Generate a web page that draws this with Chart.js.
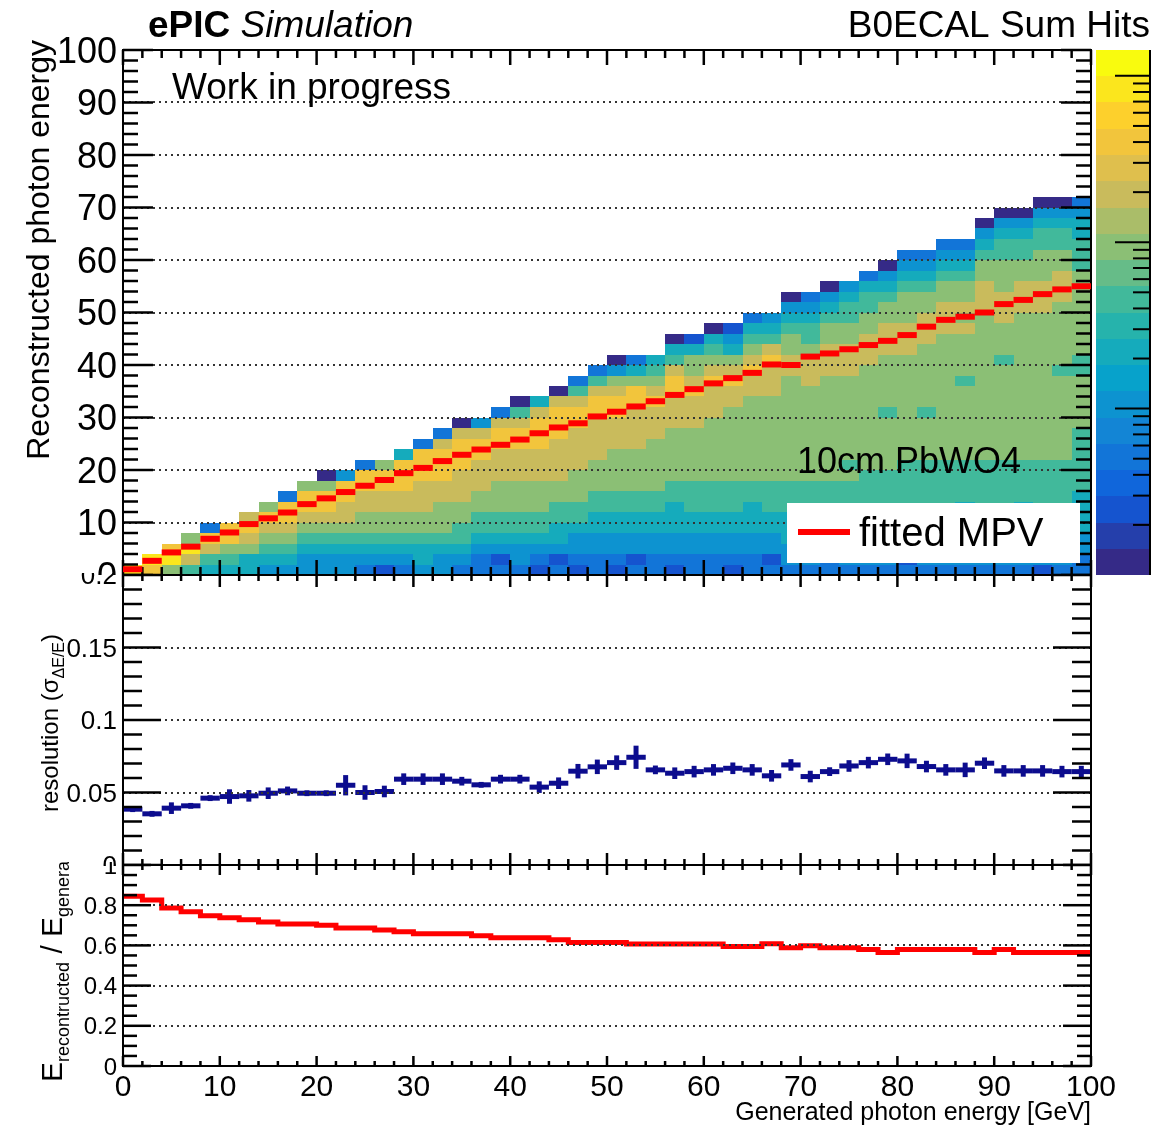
<!DOCTYPE html>
<html>
<head>
<meta charset="utf-8">
<title>B0ECAL Sum Hits</title>
<script src="https://cdn.jsdelivr.net/npm/chart.js@4/dist/chart.umd.min.js"></script>
<style>
  html, body { margin: 0; background: #fff; }
  #page { position: relative; width: 1168px; height: 1127px; overflow: hidden; }
  #page canvas { position: absolute; left: 0; }
</style>
</head>
<body>
<div id="page">
  <canvas id="hitsPad" width="1168" height="575" style="top:0px"></canvas>
  <canvas id="resPad" width="1168" height="293" style="top:573px"></canvas>
  <canvas id="ratioPad" width="1168" height="265" style="top:862px"></canvas>
</div>
<script>
// generated photon energy, bin centres (2 GeV bins)
const genEnergy = [1, 3, 5, 7, 9, 11, 13, 15, 17, 19, 21, 23, 25, 27, 29, 31, 33, 35, 37, 39,
  41, 43, 45, 47, 49, 51, 53, 55, 57, 59, 61, 63, 65, 67, 69, 71, 73, 75, 77, 79,
  81, 83, 85, 87, 89, 91, 93, 95, 97, 99];

// fitted most probable value of the reconstructed energy per bin
const mpvReco = [1.1, 2.7, 4.3, 5.4, 6.9, 8.1, 9.7, 10.8, 11.9, 13.5, 14.6, 15.8, 17.0, 18.1, 19.4, 20.4,
  21.7, 22.9, 23.9, 24.8, 25.8, 27.0, 28.1, 28.9, 30.2, 31.1, 32.1, 33.1, 34.3, 35.4, 36.5, 37.5,
  38.5, 40.1, 40.0, 41.6, 42.2, 43.0, 43.8, 44.6, 45.7, 47.3, 48.6, 49.2, 50.0, 51.6, 52.4, 53.5,
  54.4, 55.0];

// sigma(dE/E) and its error
const resolution = [0.0385, 0.0353, 0.0392, 0.0408, 0.0461, 0.0472, 0.0477, 0.0495, 0.0511, 0.0495,
  0.0495, 0.0550, 0.0500, 0.0507, 0.0592, 0.0592, 0.0592, 0.0578, 0.0553, 0.0592,
  0.0592, 0.0537, 0.0564, 0.0647, 0.0677, 0.0706, 0.0743, 0.0656, 0.0633, 0.0644,
  0.0656, 0.0667, 0.0656, 0.0615, 0.0690, 0.0610, 0.0644, 0.0683, 0.0706, 0.0729,
  0.0718, 0.0679, 0.0656, 0.0656, 0.0702, 0.0649, 0.0649, 0.0649, 0.0644, 0.0644];
const resolutionErr = [0.002, 0.002, 0.004, 0.002, 0.002, 0.005, 0.004, 0.004, 0.003, 0.002,
  0.002, 0.007, 0.005, 0.004, 0.004, 0.004, 0.004, 0.003, 0.002, 0.003,
  0.003, 0.004, 0.004, 0.005, 0.005, 0.005, 0.008, 0.003, 0.004, 0.004,
  0.004, 0.004, 0.004, 0.004, 0.004, 0.004, 0.003, 0.004, 0.004, 0.004,
  0.005, 0.004, 0.004, 0.005, 0.004, 0.004, 0.004, 0.004, 0.004, 0.004];

// E_reco / E_gen
const recoRatio = [0.845, 0.826, 0.786, 0.767, 0.747, 0.737, 0.727, 0.717, 0.707, 0.707,
  0.700, 0.687, 0.687, 0.677, 0.668, 0.658, 0.658, 0.658, 0.648, 0.638,
  0.638, 0.638, 0.628, 0.615, 0.615, 0.615, 0.607, 0.607, 0.607, 0.607,
  0.607, 0.595, 0.595, 0.608, 0.588, 0.598, 0.588, 0.588, 0.579, 0.565,
  0.579, 0.579, 0.579, 0.579, 0.565, 0.579, 0.565, 0.565, 0.565, 0.565];

// sum-hits map: one string per generated-energy bin, one char per 2 GeV
// reconstructed-energy bin starting at 0; char = log-count level 0..9
const recoBinWidth = 2;
const sumHitsLevels = [
  "9",
  "89",
  "698",
  "5796",
  "45782",
  "45688",
  "44678 7",
  "34567 86",
  "34567 882",
  "33456 7886",
  "33456 78860",
  "33456 77883",
  "23456 67788 2",
  "13456 67788 6",
  "23456 67788 84",
  "34456 67778 882",
  "33456 66778 8872",
  "23455 66777 88870",
  "22345 56677 78873",
  "21345 56667 77887 2",
  "23345 56667 77887 50",
  "12345 56667 77888 74",
  "21344 55667 77788 870",
  "12334 55666 77778 8752",
  "22334 45566 67777 88752",
  "12334 45566 66777 88763 0",
  "21334 45566 66777 78864 2",
  "22334 45566 66677 78765 4",
  "12334 44556 66667 77887 540",
  "22334 45556 66667 77876 641",
  "22334 45556 66666 77787 6540",
  "12334 45556 66666 67787 6431",
  "22334 44556 66666 66778 76542",
  "21334 45556 66666 66777 87543",
  "23344 45556 66666 66667 76654 30",
  "23344 45556 66666 66677 76554 32",
  "22344 45556 66666 66667 77665 430",
  "23344 45556 56666 66667 77665 543",
  "23344 45555 66666 66666 77766 5542",
  "23344 45555 66666 56666 67776 65430",
  "21344 45555 56666 66666 67776 66543 2",
  "23344 45555 56666 56666 66777 66543 2",
  "23344 45555 56666 66666 66677 76654 32",
  "23344 44555 56666 66656 66676 76654 32",
  "23344 45555 56666 66666 66666 77766 5430",
  "23344 45555 56666 66666 56667 77666 55430",
  "23344 44555 56666 66666 66666 77766 55430",
  "13344 45555 56666 66666 66666 77766 65543 0",
  "23344 45555 56666 66665 66666 67776 65543 0",
  "22334 44455 55556 66665 56666 66665 55443 2"
];

const xTicks = [0, 10, 20, 30, 40, 50, 60, 70, 80, 90, 100];
const yTicksTop = [0, 10, 20, 30, 40, 50, 60, 70, 80, 90, 100];
const yTicksRes = [0, 0.05, 0.1, 0.15, 0.2];
const yTicksRatio = [0, 0.2, 0.4, 0.6, 0.8, 1];
const zMax = 1430;

const FONT = '"Liberation Sans", Arial, sans-serif';
const RED = '#ff0000';
const NAVY = '#0c0c8e';

// ROOT kBird palette stops
const BIRD = [
  [0.000, 53, 42, 135], [0.125, 15, 92, 221], [0.250, 20, 129, 214],
  [0.375, 6, 164, 202], [0.500, 46, 183, 164], [0.625, 135, 191, 119],
  [0.750, 209, 187, 89], [0.875, 254, 200, 50], [1.000, 249, 251, 14]
];
const N_CONT = 20;
const LOG_MAX = Math.log10(zMax);

function bird(f) {
  f = Math.max(0, Math.min(1, f));
  for (let i = 1; i < BIRD.length; i++) {
    if (f <= BIRD[i][0]) {
      const a = BIRD[i - 1], b = BIRD[i], t = (f - a[0]) / (b[0] - a[0]);
      const c = [1, 2, 3].map(j => Math.round(a[j] + (b[j] - a[j]) * t));
      return `rgb(${c[0]},${c[1]},${c[2]})`;
    }
  }
  return 'rgb(249,251,14)';
}
// level d sits in contour 2d of the log colour scale
const levelToCount = d => Math.pow(10, LOG_MAX * (2 * d + 0.5) / N_CONT);
function countColor(z) {
  const f = Math.log10(z) / LOG_MAX;
  const band = Math.min(N_CONT - 1, Math.floor(f * N_CONT + 1e-6));
  return bird(band / (N_CONT - 1));
}

function seg(ctx, x0, y0, x1, y1) {
  ctx.beginPath(); ctx.moveTo(x0, y0); ctx.lineTo(x1, y1); ctx.stroke();
}

// frame, inward ticks on all four sides, dotted grid, y labels
function drawFrame(chart, o) {
  const { ctx, chartArea: a, scales: { x, y } } = chart;
  ctx.save();
  ctx.strokeStyle = '#333';
  ctx.lineWidth = 2;
  ctx.setLineDash([2, 4]);
  o.ticks.slice(1, -1).forEach(v => {
    const py = Math.round(y.getPixelForValue(v));
    seg(ctx, a.left, py, a.right, py);
  });
  ctx.setLineDash([]);
  ctx.strokeStyle = '#000';
  ctx.lineWidth = 2.5;
  const n = Math.round((o.ticks[o.ticks.length - 1] - o.ticks[0]) / o.yStep);
  for (let i = 0; i <= n; i++) {
    const py = y.getPixelForValue(o.ticks[0] + i * o.yStep);
    const len = i % o.yPer === 0 ? o.yMajor : o.yMinor;
    seg(ctx, a.left, py, a.left + len, py);
    seg(ctx, a.right, py, a.right - len, py);
  }
  for (let i = 0; i <= 50; i++) {
    const px = x.getPixelForValue(i * 2);
    const len = i % 5 === 0 ? o.xMajor : o.xMinor;
    seg(ctx, px, a.bottom, px, a.bottom - len);
    seg(ctx, px, a.top, px, a.top + len);
  }
  ctx.lineWidth = 2;
  ctx.strokeRect(a.left, a.top, a.right - a.left, a.bottom - a.top);

  ctx.fillStyle = '#000';
  ctx.font = `${o.labelSize}px ${FONT}`;
  ctx.textAlign = 'right';
  ctx.textBaseline = 'alphabetic';
  o.ticks.forEach(v => {
    ctx.fillText(String(v), a.left - 6, y.getPixelForValue(v) + o.labelSize * 0.36);
  });
  if (o.xLabels) {
    ctx.font = `30px ${FONT}`;
    ctx.textAlign = 'center';
    xTicks.forEach(v => ctx.fillText(String(v), x.getPixelForValue(v), a.bottom + 30));
  }
  ctx.restore();
}

const rootFrame = {
  id: 'rootFrame',
  beforeDatasetsDraw(chart, args, o) { if (o.gridUnder) drawFrame(chart, o); },
  afterDatasetsDraw(chart, args, o) { if (!o.gridUnder) drawFrame(chart, o); }
};

const sumHitsMap = {
  id: 'sumHitsMap',
  beforeDatasetsDraw(chart) {
    const { ctx, chartArea: a, scales: { x, y } } = chart;
    ctx.save();
    ctx.beginPath();
    ctx.rect(a.left, a.top, a.right - a.left, a.bottom - a.top);
    ctx.clip();
    sumHitsLevels.forEach((col, i) => {
      const cells = col.replace(/ /g, '');
      const x0 = Math.round(x.getPixelForValue(genEnergy[i] - 1));
      const x1 = Math.round(x.getPixelForValue(genEnergy[i] + 1));
      for (let k = 0; k < cells.length; k++) {
        const y0 = Math.round(y.getPixelForValue(recoBinWidth * (k + 1)));
        const y1 = Math.round(y.getPixelForValue(recoBinWidth * k));
        ctx.fillStyle = countColor(levelToCount(+cells[k]));
        ctx.fillRect(x0, y0, x1 - x0, y1 - y0);
      }
    });
    ctx.restore();
  }
};

const hitsDecor = {
  id: 'hitsDecor',
  afterDraw(chart) {
    const { ctx, chartArea: a } = chart;
    const zs = chart.scales.z;
    ctx.save();
    ctx.fillStyle = '#000';
    ctx.textBaseline = 'alphabetic';

    ctx.font = `bold 37px ${FONT}`;
    ctx.textAlign = 'left';
    ctx.fillText('ePIC', 148, 37);
    const w = ctx.measureText('ePIC ').width;
    ctx.font = `italic 37px ${FONT}`;
    ctx.fillText('Simulation', 148 + w, 37);
    ctx.font = `37px ${FONT}`;
    ctx.textAlign = 'right';
    ctx.fillText('B0ECAL Sum Hits', 1150, 37);
    ctx.textAlign = 'left';
    ctx.fillText('Work in progress', 172, 99);
    ctx.font = `36px ${FONT}`;
    ctx.fillText('10cm PbWO4', 797, 473);

    // legend
    ctx.fillStyle = '#fff';
    ctx.fillRect(787, 503, 293, 60);
    ctx.strokeStyle = RED;
    ctx.lineWidth = 6;
    seg(ctx, 798, 532, 850, 532);
    ctx.fillStyle = '#000';
    ctx.font = `40px ${FONT}`;
    ctx.fillText('fitted MPV', 859, 546);

    // y title
    ctx.save();
    ctx.translate(49, 40);
    ctx.rotate(-Math.PI / 2);
    ctx.textAlign = 'right';
    ctx.font = `32px ${FONT}`;
    ctx.fillText('Reconstructed photon energy', 0, 0);
    ctx.restore();

    // colour scale
    const cbL = a.right + 5, cbR = a.right + 59;
    for (let b = 0; b < N_CONT; b++) {
      const yTop = Math.round(zs.getPixelForValue(Math.pow(10, LOG_MAX * (b + 1) / N_CONT)));
      const yBot = Math.round(zs.getPixelForValue(Math.pow(10, LOG_MAX * b / N_CONT)));
      ctx.fillStyle = bird(b / (N_CONT - 1));
      ctx.fillRect(cbL, yTop, cbR - cbL, yBot - yTop);
    }
    ctx.strokeStyle = '#000';
    ctx.lineWidth = 2;
    seg(ctx, cbR, zs.top, cbR, zs.bottom);
    for (let e = 0; e <= 3; e++) {
      for (let k = 1; k <= 9; k++) {
        const v = k * Math.pow(10, e);
        if (v <= 1 || v >= zMax) continue;
        const py = zs.getPixelForValue(v);
        seg(ctx, cbR - (k === 1 ? 35 : 17), py, cbR, py);
      }
    }
    ctx.restore();
  }
};

const resErrorBars = {
  id: 'resErrorBars',
  afterDatasetsDraw(chart) {
    const { ctx, scales: { x, y } } = chart;
    ctx.save();
    ctx.strokeStyle = NAVY;
    ctx.lineWidth = 5;
    resolution.forEach((v, i) => {
      const px = x.getPixelForValue(genEnergy[i]);
      seg(ctx, px, y.getPixelForValue(v - resolutionErr[i]), px, y.getPixelForValue(v + resolutionErr[i]));
    });
    ctx.restore();
  }
};

const resDecor = {
  id: 'resDecor',
  afterDraw(chart) {
    const ctx = chart.ctx;
    ctx.save();
    ctx.fillStyle = '#000';
    ctx.translate(58, 239);
    ctx.rotate(-Math.PI / 2);
    ctx.textAlign = 'left';
    ctx.font = `24px ${FONT}`;
    ctx.fillText('resolution (\u03c3', 0, 0);
    let w = ctx.measureText('resolution (\u03c3').width;
    ctx.font = `16px ${FONT}`;
    ctx.fillText('\u0394E/E', w, 6);
    w += ctx.measureText('\u0394E/E').width;
    ctx.font = `24px ${FONT}`;
    ctx.fillText(')', w, 0);
    ctx.restore();
  }
};

const ratioDecor = {
  id: 'ratioDecor',
  afterDraw(chart) {
    const { ctx, chartArea: a } = chart;
    ctx.save();
    ctx.fillStyle = '#000';
    ctx.font = `25px ${FONT}`;
    ctx.textAlign = 'right';
    ctx.fillText('Generated photon energy [GeV]', a.right, 258);

    ctx.translate(62, 220);
    ctx.rotate(-Math.PI / 2);
    ctx.textAlign = 'left';
    let w = 0;
    [['E', 30, 0], ['recontructed', 18, 7], [' / E', 30, 0], ['generated', 18, 7]].forEach(([s, size, dy]) => {
      ctx.font = `${size}px ${FONT}`;
      ctx.fillText(s, w, dy);
      w += ctx.measureText(s).width;
    });
    ctx.restore();
  }
};

function padOptions(yMax, padding, frame, extraScales) {
  return {
    responsive: false,
    animation: false,
    devicePixelRatio: 1,
    layout: { padding, autoPadding: false },
    plugins: { legend: { display: false }, tooltip: { enabled: false }, rootFrame: frame },
    scales: Object.assign({
      x: { type: 'linear', min: 0, max: 100, display: false },
      y: { type: 'linear', min: 0, max: yMax, display: false }
    }, extraScales || {})
  };
}

new Chart(document.getElementById('hitsPad'), {
  type: 'scatter',
  data: {
    datasets: [{
      label: 'fitted MPV',
      data: genEnergy.map((e, i) => ({ x: e, y: mpvReco[i] })),
      pointStyle: 'line',
      pointRadius: 9.7,
      pointBorderWidth: 6,
      borderColor: RED,
      pointBorderColor: RED
    }]
  },
  options: padOptions(100, { left: 123, right: 77, top: 50, bottom: 0 },
    { ticks: yTicksTop, yStep: 2, yPer: 5, yMajor: 30, yMinor: 15, xMajor: 15, xMinor: 8, labelSize: 36, gridUnder: true },
    { z: { type: 'logarithmic', position: 'right', min: 1, max: zMax, display: false } }),
  plugins: [sumHitsMap, rootFrame, hitsDecor]
});

new Chart(document.getElementById('resPad'), {
  type: 'scatter',
  data: {
    datasets: [{
      label: 'resolution',
      data: genEnergy.map((e, i) => ({ x: e, y: resolution[i] })),
      pointStyle: 'line',
      pointRadius: 9.7,
      pointBorderWidth: 5,
      borderColor: NAVY,
      pointBorderColor: NAVY
    }]
  },
  options: padOptions(0.2, { left: 123, right: 77, top: 2, bottom: 1 },
    { ticks: yTicksRes, yStep: 0.01, yPer: 5, yMajor: 38, yMinor: 19, xMajor: 12, xMinor: 6, labelSize: 26, gridUnder: false }),
  plugins: [resErrorBars, rootFrame, resDecor]
});

new Chart(document.getElementById('ratioPad'), {
  type: 'scatter',
  data: {
    datasets: [{
      label: 'ratio',
      data: genEnergy.flatMap((e, i) => [{ x: e - 1, y: recoRatio[i] }, { x: e + 1, y: recoRatio[i] }]),
      showLine: true,
      borderColor: RED,
      borderWidth: 5,
      pointRadius: 0
    }]
  },
  options: padOptions(1, { left: 123, right: 77, top: 3, bottom: 61 },
    { ticks: yTicksRatio, yStep: 0.05, yPer: 4, yMajor: 28, yMinor: 14, xMajor: 10, xMinor: 5, labelSize: 24, gridUnder: false, xLabels: true }),
  plugins: [rootFrame, ratioDecor]
});
</script>
</body>
</html>
